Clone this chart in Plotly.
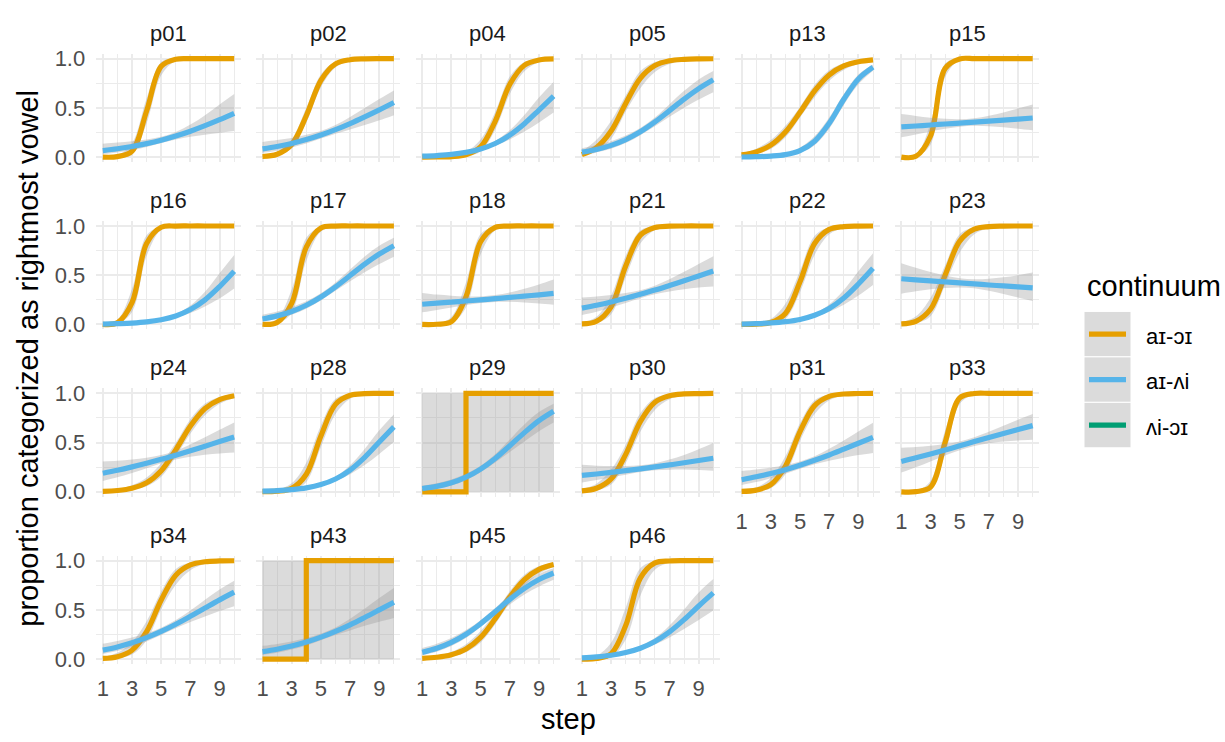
import plotly.graph_objects as go

# ---------------------------------------------------------------------------
# Data: logistic fits of "proportion categorized as rightmost vowel" by step,
# per participant and continuum, with the 95% confidence band of each fit.
# ---------------------------------------------------------------------------
participants = ["p01", "p02", "p04", "p05", "p13", "p15",
                "p16", "p17", "p18", "p21", "p22", "p23",
                "p24", "p28", "p29", "p30", "p31", "p33",
                "p34", "p43", "p45", "p46"]

steps = [1, 2, 3, 4, 5, 6, 7, 8, 9, 10]
step_ticks = [1, 3, 5, 7, 9]
prop_ticks = [0.0, 0.5, 1.0]

continua = ["aɪ-ɔɪ", "aɪ-ʌi", "ʌi-ɔɪ"]
continuum_colors = ["#E69F00", "#56B4E9", "#009E73"]

# aɪ-ɔɪ continuum
ai_oi_fit = [
    [0.0, 0.005, 0.061, 0.468, 0.922, 0.994, 1.0, 1.0, 1.0, 1.0],
    [0.006, 0.029, 0.128, 0.42, 0.78, 0.947, 0.989, 0.998, 1.0, 1.0],
    [0.0, 0.001, 0.005, 0.023, 0.103, 0.364, 0.739, 0.933, 0.986, 0.997],
    [0.025, 0.098, 0.265, 0.545, 0.8, 0.93, 0.978, 0.993, 0.998, 0.999],
    [0.022, 0.053, 0.121, 0.254, 0.455, 0.673, 0.835, 0.926, 0.968, 0.987],
    [0.0, 0.008, 0.214, 0.9, 0.997, 1.0, 1.0, 1.0, 1.0, 1.0],
    [0.001, 0.017, 0.221, 0.823, 0.987, 0.999, 1.0, 1.0, 1.0, 1.0],
    [0.002, 0.02, 0.214, 0.786, 0.98, 0.999, 1.0, 1.0, 1.0, 1.0],
    [0.0, 0.002, 0.028, 0.281, 0.84, 0.986, 0.999, 1.0, 1.0, 1.0],
    [0.005, 0.032, 0.179, 0.594, 0.907, 0.985, 0.998, 1.0, 1.0, 1.0],
    [0.001, 0.003, 0.02, 0.112, 0.433, 0.822, 0.965, 0.994, 0.999, 1.0],
    [0.006, 0.032, 0.154, 0.5, 0.846, 0.968, 0.994, 0.999, 1.0, 1.0],
    [0.005, 0.013, 0.036, 0.091, 0.214, 0.426, 0.668, 0.846, 0.937, 0.976],
    [0.001, 0.006, 0.035, 0.178, 0.567, 0.888, 0.98, 0.997, 0.999, 1.0],
    [0, 0, 0, 0, 1, 1, 1, 1, 1, 1],
    [0.009, 0.036, 0.131, 0.38, 0.713, 0.91, 0.976, 0.994, 0.998, 1.0],
    [0.004, 0.017, 0.072, 0.259, 0.611, 0.875, 0.969, 0.993, 0.998, 1.0],
    [0.0, 0.002, 0.047, 0.5, 0.953, 0.998, 1.0, 1.0, 1.0, 1.0],
    [0.007, 0.025, 0.091, 0.279, 0.601, 0.853, 0.957, 0.989, 0.997, 0.999],
    [0, 0, 0, 0, 1, 1, 1, 1, 1, 1],
    [0.008, 0.019, 0.045, 0.103, 0.221, 0.411, 0.632, 0.808, 0.912, 0.962],
    [0.001, 0.006, 0.054, 0.341, 0.823, 0.977, 0.997, 1.0, 1.0, 1.0],
]
ai_oi_lo = [
    [0.0, 0.001, 0.025, 0.343, 0.831, 0.978, 0.998, 1.0, 1.0, 1.0],
    [0.002, 0.015, 0.09, 0.35, 0.71, 0.91, 0.975, 0.995, 1.0, 1.0],
    [0.0, 0.0, 0.002, 0.01, 0.057, 0.279, 0.641, 0.873, 0.964, 0.99],
    [0.011, 0.053, 0.184, 0.463, 0.70, 0.864, 0.945, 0.979, 0.992, 0.997],
    [0.012, 0.032, 0.083, 0.198, 0.401, 0.608, 0.776, 0.885, 0.945, 0.974],
    [0.0, 0.003, 0.125, 0.81, 0.989, 0.999, 1.0, 1.0, 1.0, 1.0],
    [0.0, 0.006, 0.126, 0.694, 0.962, 0.996, 1.0, 1.0, 1.0, 1.0],
    [0.0, 0.007, 0.119, 0.646, 0.943, 0.993, 1.0, 1.0, 1.0, 1.0],
    [0.0, 0.0, 0.01, 0.171, 0.711, 0.957, 0.995, 1.0, 1.0, 1.0],
    [0.001, 0.013, 0.103, 0.48, 0.821, 0.958, 0.991, 0.998, 1.0, 1.0],
    [0.0, 0.001, 0.007, 0.056, 0.327, 0.705, 0.915, 0.98, 0.995, 0.999],
    [0.002, 0.012, 0.083, 0.401, 0.731, 0.917, 0.978, 0.994, 0.999, 1.0],
    [0.002, 0.006, 0.019, 0.056, 0.153, 0.357, 0.591, 0.777, 0.894, 0.953],
    [0.0, 0.002, 0.014, 0.10, 0.455, 0.789, 0.944, 0.987, 0.997, 1.0],
    [0, 0, 0, 0, 0, 0, 0, 0, 0, 0],
    [0.003, 0.015, 0.074, 0.293, 0.611, 0.832, 0.94, 0.98, 0.994, 0.998],
    [0.001, 0.007, 0.036, 0.178, 0.517, 0.789, 0.929, 0.979, 0.994, 0.998],
    [0.0, 0.001, 0.02, 0.378, 0.891, 0.991, 0.999, 1.0, 1.0, 1.0],
    [0.002, 0.01, 0.046, 0.193, 0.507, 0.756, 0.903, 0.965, 0.988, 0.996],
    [0, 0, 0, 0, 0, 0, 0, 0, 0, 0],
    [0.004, 0.01, 0.027, 0.069, 0.168, 0.354, 0.57, 0.746, 0.868, 0.936],
    [0.0, 0.001, 0.016, 0.196, 0.643, 0.908, 0.982, 0.997, 1.0, 1.0],
]
ai_oi_hi = [
    [0.002, 0.018, 0.141, 0.596, 0.966, 0.998, 1.0, 1.0, 1.0, 1.0],
    [0.015, 0.055, 0.18, 0.5, 0.84, 0.97, 0.995, 1.0, 1.0, 1.0],
    [0.001, 0.004, 0.014, 0.054, 0.179, 0.458, 0.818, 0.966, 0.994, 0.999],
    [0.058, 0.175, 0.366, 0.625, 0.871, 0.965, 0.991, 0.998, 1.0, 1.0],
    [0.041, 0.086, 0.174, 0.319, 0.51, 0.731, 0.881, 0.953, 0.982, 0.993],
    [0.002, 0.023, 0.343, 0.95, 0.999, 1.0, 1.0, 1.0, 1.0, 1.0],
    [0.005, 0.048, 0.359, 0.906, 0.996, 1.0, 1.0, 1.0, 1.0, 1.0],
    [0.007, 0.057, 0.354, 0.881, 0.993, 1.0, 1.0, 1.0, 1.0, 1.0],
    [0.001, 0.009, 0.076, 0.426, 0.918, 0.996, 1.0, 1.0, 1.0, 1.0],
    [0.017, 0.077, 0.293, 0.698, 0.954, 0.995, 1.0, 1.0, 1.0, 1.0],
    [0.003, 0.013, 0.056, 0.211, 0.545, 0.899, 0.986, 0.998, 1.0, 1.0],
    [0.022, 0.083, 0.269, 0.599, 0.917, 0.988, 0.998, 1.0, 1.0, 1.0],
    [0.012, 0.028, 0.066, 0.146, 0.291, 0.498, 0.737, 0.896, 0.963, 0.988],
    [0.005, 0.02, 0.086, 0.295, 0.673, 0.944, 0.993, 1.0, 1.0, 1.0],
    [1, 1, 1, 1, 1, 1, 1, 1, 1, 1],
    [0.028, 0.083, 0.223, 0.475, 0.797, 0.953, 0.991, 0.998, 1.0, 1.0],
    [0.013, 0.044, 0.139, 0.361, 0.696, 0.93, 0.987, 0.998, 1.0, 1.0],
    [0.001, 0.009, 0.109, 0.622, 0.98, 0.999, 1.0, 1.0, 1.0, 1.0],
    [0.023, 0.065, 0.172, 0.385, 0.688, 0.916, 0.982, 0.996, 0.999, 1.0],
    [1, 1, 1, 1, 1, 1, 1, 1, 1, 1],
    [0.016, 0.035, 0.074, 0.152, 0.285, 0.47, 0.69, 0.858, 0.943, 0.978],
    [0.006, 0.035, 0.167, 0.522, 0.923, 0.994, 1.0, 1.0, 1.0, 1.0],
]

# aɪ-ʌi continuum
ai_vi_fit = [
    [0.066, 0.085, 0.108, 0.137, 0.172, 0.214, 0.263, 0.319, 0.38, 0.445],
    [0.083, 0.108, 0.139, 0.178, 0.224, 0.279, 0.341, 0.409, 0.48, 0.555],
    [0.009, 0.016, 0.027, 0.048, 0.082, 0.138, 0.223, 0.339, 0.478, 0.62],
    [0.05, 0.078, 0.119, 0.178, 0.257, 0.357, 0.472, 0.589, 0.696, 0.786],
    [0.001, 0.004, 0.01, 0.025, 0.066, 0.161, 0.343, 0.587, 0.794, 0.913],
    [0.307, 0.316, 0.326, 0.336, 0.345, 0.355, 0.366, 0.376, 0.386, 0.397],
    [0.004, 0.008, 0.014, 0.026, 0.048, 0.086, 0.151, 0.25, 0.385, 0.54],
    [0.056, 0.087, 0.132, 0.195, 0.279, 0.382, 0.497, 0.613, 0.715, 0.80],
    [0.205, 0.216, 0.227, 0.238, 0.25, 0.262, 0.275, 0.288, 0.301, 0.315],
    [0.166, 0.195, 0.228, 0.265, 0.306, 0.349, 0.396, 0.444, 0.493, 0.543],
    [0.004, 0.008, 0.015, 0.028, 0.051, 0.093, 0.162, 0.269, 0.411, 0.57],
    [0.464, 0.453, 0.443, 0.432, 0.422, 0.412, 0.401, 0.391, 0.381, 0.371],
    [0.189, 0.219, 0.253, 0.29, 0.33, 0.372, 0.417, 0.463, 0.51, 0.556],
    [0.006, 0.011, 0.022, 0.04, 0.073, 0.13, 0.221, 0.35, 0.505, 0.659],
    [0.033, 0.055, 0.091, 0.148, 0.23, 0.338, 0.468, 0.601, 0.723, 0.818],
    [0.166, 0.181, 0.197, 0.215, 0.233, 0.253, 0.273, 0.295, 0.318, 0.341],
    [0.123, 0.152, 0.185, 0.225, 0.27, 0.32, 0.374, 0.433, 0.493, 0.553],
    [0.308, 0.345, 0.384, 0.425, 0.467, 0.51, 0.552, 0.593, 0.633, 0.672],
    [0.092, 0.124, 0.166, 0.218, 0.281, 0.354, 0.435, 0.519, 0.602, 0.68],
    [0.076, 0.101, 0.133, 0.173, 0.223, 0.282, 0.349, 0.423, 0.5, 0.578],
    [0.069, 0.11, 0.17, 0.253, 0.359, 0.482, 0.607, 0.719, 0.809, 0.875],
    [0.013, 0.023, 0.039, 0.067, 0.111, 0.179, 0.277, 0.401, 0.54, 0.673],
]
ai_vi_lo = [
    [0.031, 0.047, 0.071, 0.103, 0.143, 0.179, 0.206, 0.228, 0.246, 0.265],
    [0.043, 0.065, 0.098, 0.138, 0.188, 0.237, 0.281, 0.325, 0.373, 0.426],
    [0.005, 0.009, 0.019, 0.037, 0.069, 0.116, 0.179, 0.259, 0.352, 0.453],
    [0.027, 0.049, 0.086, 0.143, 0.223, 0.314, 0.409, 0.5, 0.584, 0.659],
    [0.001, 0.002, 0.005, 0.016, 0.045, 0.121, 0.289, 0.53, 0.739, 0.877],
    [0.202, 0.23, 0.259, 0.287, 0.308, 0.318, 0.314, 0.304, 0.289, 0.273],
    [0.002, 0.004, 0.01, 0.02, 0.039, 0.071, 0.117, 0.182, 0.265, 0.366],
    [0.032, 0.057, 0.098, 0.16, 0.244, 0.341, 0.438, 0.53, 0.613, 0.688],
    [0.124, 0.148, 0.173, 0.197, 0.218, 0.229, 0.23, 0.223, 0.214, 0.201],
    [0.095, 0.129, 0.171, 0.218, 0.267, 0.307, 0.335, 0.358, 0.374, 0.385],
    [0.002, 0.005, 0.01, 0.021, 0.042, 0.077, 0.129, 0.201, 0.293, 0.401],
    [0.313, 0.337, 0.357, 0.37, 0.376, 0.367, 0.341, 0.309, 0.274, 0.237],
    [0.109, 0.147, 0.191, 0.239, 0.289, 0.329, 0.356, 0.376, 0.389, 0.398],
    [0.003, 0.007, 0.015, 0.031, 0.061, 0.11, 0.179, 0.273, 0.385, 0.505],
    [0.018, 0.035, 0.065, 0.118, 0.198, 0.297, 0.404, 0.512, 0.615, 0.703],
    [0.095, 0.119, 0.147, 0.174, 0.201, 0.219, 0.225, 0.226, 0.222, 0.214],
    [0.069, 0.099, 0.137, 0.183, 0.234, 0.28, 0.316, 0.347, 0.373, 0.395],
    [0.196, 0.25, 0.308, 0.368, 0.423, 0.465, 0.492, 0.51, 0.522, 0.529],
    [0.053, 0.082, 0.124, 0.18, 0.246, 0.314, 0.377, 0.434, 0.489, 0.538],
    [0.041, 0.064, 0.097, 0.139, 0.192, 0.245, 0.292, 0.338, 0.38, 0.419],
    [0.042, 0.076, 0.133, 0.215, 0.326, 0.445, 0.556, 0.657, 0.738, 0.805],
    [0.006, 0.013, 0.026, 0.05, 0.091, 0.149, 0.221, 0.306, 0.397, 0.493],
]
ai_vi_hi = [
    [0.136, 0.148, 0.161, 0.179, 0.206, 0.254, 0.33, 0.426, 0.535, 0.641],
    [0.154, 0.174, 0.195, 0.226, 0.265, 0.325, 0.406, 0.498, 0.589, 0.677],
    [0.017, 0.026, 0.039, 0.062, 0.099, 0.164, 0.273, 0.428, 0.606, 0.763],
    [0.091, 0.121, 0.162, 0.219, 0.295, 0.401, 0.537, 0.673, 0.789, 0.874],
    [0.003, 0.007, 0.017, 0.041, 0.096, 0.211, 0.401, 0.641, 0.84, 0.939],
    [0.437, 0.418, 0.399, 0.389, 0.385, 0.395, 0.421, 0.453, 0.495, 0.535],
    [0.008, 0.013, 0.021, 0.035, 0.058, 0.104, 0.192, 0.332, 0.52, 0.705],
    [0.098, 0.131, 0.177, 0.235, 0.316, 0.426, 0.557, 0.69, 0.799, 0.88],
    [0.32, 0.303, 0.292, 0.285, 0.285, 0.299, 0.325, 0.362, 0.406, 0.456],
    [0.274, 0.284, 0.298, 0.319, 0.347, 0.394, 0.459, 0.534, 0.614, 0.693],
    [0.008, 0.013, 0.022, 0.036, 0.062, 0.111, 0.203, 0.35, 0.54, 0.723],
    [0.622, 0.575, 0.533, 0.497, 0.469, 0.458, 0.465, 0.479, 0.501, 0.528],
    [0.307, 0.315, 0.327, 0.346, 0.373, 0.418, 0.481, 0.553, 0.629, 0.704],
    [0.011, 0.019, 0.03, 0.051, 0.087, 0.153, 0.269, 0.435, 0.625, 0.786],
    [0.061, 0.087, 0.126, 0.184, 0.265, 0.382, 0.532, 0.684, 0.81, 0.895],
    [0.274, 0.265, 0.261, 0.262, 0.269, 0.29, 0.328, 0.375, 0.432, 0.495],
    [0.21, 0.226, 0.246, 0.273, 0.309, 0.362, 0.437, 0.522, 0.613, 0.701],
    [0.448, 0.455, 0.467, 0.485, 0.512, 0.555, 0.61, 0.672, 0.732, 0.789],
    [0.156, 0.184, 0.219, 0.262, 0.319, 0.397, 0.494, 0.603, 0.706, 0.795],
    [0.135, 0.155, 0.18, 0.214, 0.258, 0.321, 0.41, 0.512, 0.62, 0.722],
    [0.112, 0.157, 0.214, 0.295, 0.395, 0.519, 0.656, 0.774, 0.865, 0.923],
    [0.027, 0.04, 0.058, 0.088, 0.135, 0.214, 0.341, 0.505, 0.677, 0.813],
]

# ---------------------------------------------------------------------------
# Layout geometry (pixels) and styling
# ---------------------------------------------------------------------------
W, H = 1225, 742
NCOL = 6
X_STEP1 = 102.8        # pixel of step 1 in the first column
COL_PITCH = 159.7
PX_PER_STEP = 14.6
Y_ONE = 52.7           # pixel of proportion 1.0 in the first row
ROW_PITCH = 170.8
PX_PER_UNIT = 100.5

FONT = "Liberation Sans, Arial, Helvetica, sans-serif"
SMALL = 22
LARGE = 29
GRID = "#EBEBEB"
BAND = "rgba(153,153,153,0.35)"
LINE_W = 5.2


def px_x(p):
    return p / W


def px_y(p):
    return 1 - p / H


fig = go.Figure()
layout = dict(
    width=W, height=H,
    margin=dict(l=0, r=0, t=0, b=0),
    paper_bgcolor="white", plot_bgcolor="white",
    showlegend=False,
    font=dict(family=FONT, size=SMALL, color="#4D4D4D"),
)
annotations = []
shapes = []

series = [
    (ai_oi_fit, ai_oi_lo, ai_oi_hi, continuum_colors[0]),
    (ai_vi_fit, ai_vi_lo, ai_vi_hi, continuum_colors[1]),
]

n_panels = len(participants)
for i, pid in enumerate(participants):
    r, c = divmod(i, NCOL)
    suffix = "" if i == 0 else str(i + 1)
    xa, ya = "x" + suffix, "y" + suffix

    for fit, lo, hi, color in series:
        step_fit = all(v in (0, 1) for v in fit[i])
        fig.add_trace(go.Scatter(
            x=steps, y=lo[i], xaxis=xa, yaxis=ya, mode="lines",
            line=dict(width=0, shape="spline"), hoverinfo="skip"))
        fig.add_trace(go.Scatter(
            x=steps, y=hi[i], xaxis=xa, yaxis=ya, mode="lines",
            line=dict(width=0, shape="spline"), fill="tonexty",
            fillcolor=BAND, hoverinfo="skip"))
        fig.add_trace(go.Scatter(
            x=steps, y=fit[i], xaxis=xa, yaxis=ya, mode="lines",
            line=dict(color=color, width=LINE_W,
                      shape="vh" if step_fit else "spline")))

    x1 = X_STEP1 + c * COL_PITCH
    left = x1 - 0.45 * PX_PER_STEP
    right = x1 + 9.45 * PX_PER_STEP
    y1 = Y_ONE + r * ROW_PITCH
    top = y1 - 0.05 * PX_PER_UNIT
    bottom = y1 + 1.05 * PX_PER_UNIT

    show_x = i + NCOL >= n_panels
    show_y = c == 0

    layout["xaxis" + suffix] = dict(
        domain=[px_x(left), px_x(right)], range=[0.55, 10.45], anchor=ya,
        tickvals=step_ticks, ticktext=[str(t) for t in step_ticks],
        showticklabels=show_x, ticks="", ticklabelstandoff=9,
        tickfont=dict(size=SMALL, color="#4D4D4D"),
        showgrid=True, gridcolor=GRID, gridwidth=1.8,
        minor=dict(tickvals=[2, 4, 6, 8, 10], showgrid=True,
                   gridcolor=GRID, gridwidth=1.2),
        zeroline=False, showline=False, fixedrange=True,
    )
    layout["yaxis" + suffix] = dict(
        domain=[px_y(bottom), px_y(top)], range=[-0.05, 1.05], anchor=xa,
        tickvals=prop_ticks, ticktext=["%.1f" % t for t in prop_ticks],
        showticklabels=show_y, ticks="", ticklabelstandoff=10,
        tickfont=dict(size=SMALL, color="#4D4D4D"),
        showgrid=True, gridcolor=GRID, gridwidth=1.8,
        minor=dict(tickvals=[0.25, 0.75], showgrid=True,
                   gridcolor=GRID, gridwidth=1.2),
        zeroline=False, showline=False, fixedrange=True,
    )

    # facet strip label
    annotations.append(dict(
        text=pid, x=px_x((left + right) / 2), y=px_y(y1 - 26),
        xref="paper", yref="paper", xanchor="center", yanchor="middle",
        showarrow=False, font=dict(size=SMALL, color="#1A1A1A")))

# axis titles
annotations.append(dict(
    text="step", x=px_x(568), y=px_y(727), xref="paper", yref="paper",
    xanchor="center", yanchor="middle", showarrow=False,
    font=dict(size=LARGE, color="black")))
annotations.append(dict(
    text="proportion categorized as rightmost vowel", x=px_x(28), y=px_y(359),
    xref="paper", yref="paper", xanchor="center", yanchor="middle",
    textangle=-90, showarrow=False, font=dict(size=LARGE, color="black")))

# legend: title, grey keys with coloured line segments, labels
annotations.append(dict(
    text="continuum", x=px_x(1085), y=px_y(285), xref="paper", yref="paper",
    xanchor="left", yanchor="middle", showarrow=False,
    font=dict(size=LARGE, color="black")))
key_left, key_right, key_top, key_h = 1084, 1131, 310.7, 46.4
for k, (name, color) in enumerate(zip(continua, continuum_colors)):
    t = key_top + k * key_h
    shapes.append(dict(
        type="rect", xref="paper", yref="paper",
        x0=px_x(key_left), x1=px_x(key_right),
        y0=px_y(t + key_h), y1=px_y(t),
        fillcolor=BAND, line=dict(color="white", width=1), layer="above"))
    mid = t + key_h / 2
    shapes.append(dict(
        type="line", xref="paper", yref="paper",
        x0=px_x(key_left + 5), x1=px_x(key_right - 5),
        y0=px_y(mid), y1=px_y(mid),
        line=dict(color=color, width=LINE_W), layer="above"))
    annotations.append(dict(
        text=name, x=px_x(1144), y=px_y(mid + 2), xref="paper", yref="paper",
        xanchor="left", yanchor="middle", showarrow=False,
        font=dict(size=SMALL, color="black")))

layout["annotations"] = annotations
layout["shapes"] = shapes
fig.update_layout(**layout)
fig.update_traces(showlegend=False)

fig.write_html("out.html")
